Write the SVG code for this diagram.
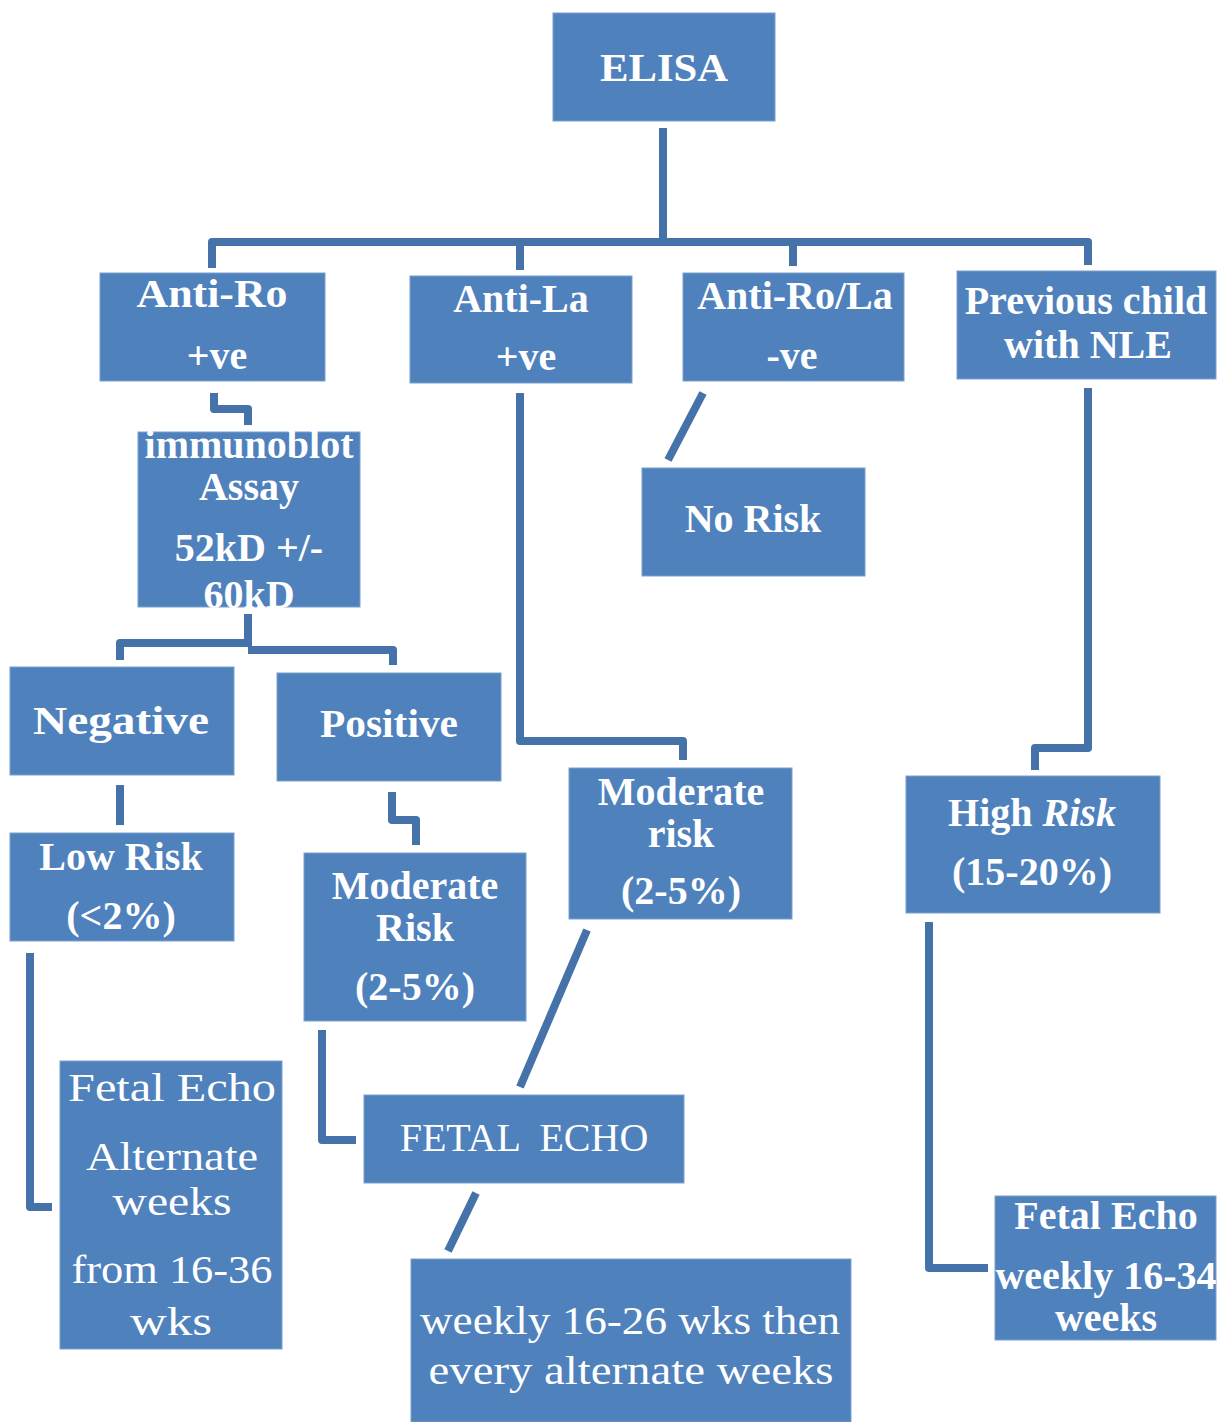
<svg xmlns="http://www.w3.org/2000/svg" width="1226" height="1422" viewBox="0 0 1226 1422">
<style>
.box{fill:#4f81bd;stroke:#7aa0d0;stroke-width:1}
.t{fill:#ffffff;font-family:"Liberation Serif","Times New Roman",serif;text-anchor:middle;font-weight:bold;font-size:40px}
.r{font-weight:normal}
.c{fill:none;stroke:#4572a8;stroke-width:8;stroke-linejoin:round}
</style>
<rect width="1226" height="1422" fill="#ffffff"/>
<g id="connectors">
<path class="c" d="M663 128 V242"/>
<path class="c" d="M212 268 V242 H1088 V265"/>
<path class="c" d="M520 242 V270"/>
<path class="c" d="M793 242 V266"/>
<path class="c" d="M214 393 V409 H248 V425"/>
<path class="c" d="M248 614 V646"/>
<path class="c" d="M120 660 V643 H248"/>
<path class="c" d="M248 650 H393 V665"/>
<path class="c" d="M520 393 V741 H683 V760"/>
<path class="c" d="M703 393 L668 460"/>
<path class="c" d="M1088 388 V748 H1035 V770"/>
<path class="c" d="M120 785 V825"/>
<path class="c" d="M392 792 V820 H416 V845"/>
<path class="c" d="M30 953 V1207 H52"/>
<path class="c" d="M322 1030 V1140 H356"/>
<path class="c" d="M587 930 L520 1087"/>
<path class="c" d="M476 1193 L448 1251"/>
<path class="c" d="M929 922 V1268 H988"/>
</g>
<g id="elisa"><rect class="box" x="553" y="13" width="222" height="108"/><text class="t" x="664" y="81" font-size="44" textLength="128" lengthAdjust="spacingAndGlyphs">ELISA</text></g>
<g id="anti-ro"><rect class="box" x="100" y="273" width="225" height="108"/><text class="t" x="212" y="307" textLength="151" lengthAdjust="spacingAndGlyphs">Anti-Ro</text><text class="t" x="217" y="369">+ve</text></g>
<g id="anti-la"><rect class="box" x="410" y="276" width="222" height="107"/><text class="t" x="521" y="312">Anti-La</text><text class="t" x="526" y="370">+ve</text></g>
<g id="anti-rola"><rect class="box" x="683" y="273" width="221" height="108"/><text class="t" x="795" y="309" font-size="38">Anti-Ro/La</text><text class="t" x="792" y="369">-ve</text></g>
<g id="previous"><rect class="box" x="957" y="271" width="259" height="108"/><text class="t" x="1086" y="314" font-size="38">Previous child</text><text class="t" x="1088" y="358" font-size="38">with NLE</text></g>
<g id="immunoblot"><rect class="box" x="138" y="432" width="222" height="175"/><text class="t" x="249" y="458" font-size="38">immunoblot</text><text class="t" x="249" y="500" font-size="38">Assay</text><text class="t" x="249" y="561" font-size="38">52kD +/-</text><text class="t" x="249" y="608" font-size="38">60kD</text></g>
<g id="no-risk"><rect class="box" x="642" y="468" width="223" height="108"/><text class="t" x="753" y="532">No Risk</text></g>
<g id="negative"><rect class="box" x="10" y="667" width="224" height="108"/><text class="t" x="121" y="734" font-size="44" textLength="176" lengthAdjust="spacingAndGlyphs">Negative</text></g>
<g id="positive"><rect class="box" x="277" y="673" width="224" height="108"/><text class="t" x="389" y="737" font-size="38" textLength="138" lengthAdjust="spacingAndGlyphs">Positive</text></g>
<g id="moderate-risk-mid"><rect class="box" x="569" y="768" width="223" height="151"/><text class="t" x="681" y="805" font-size="38">Moderate</text><text class="t" x="681" y="847" font-size="38">risk</text><text class="t" x="681" y="904" font-size="38">(2-5%)</text></g>
<g id="high-risk"><rect class="box" x="906" y="776" width="254" height="137"/><text class="t" x="1032" y="826" font-size="38">High <tspan font-style="italic">Risk</tspan></text><text class="t" x="1032" y="885" font-size="38">(15-20%)</text></g>
<g id="low-risk"><rect class="box" x="10" y="833" width="224" height="108"/><text class="t" x="121" y="870" font-size="38">Low Risk</text><text class="t" x="121" y="929" font-size="38">(&lt;2%)</text></g>
<g id="moderate-risk-left"><rect class="box" x="304" y="853" width="222" height="168"/><text class="t" x="415" y="899" font-size="38">Moderate</text><text class="t" x="415" y="941" font-size="38">Risk</text><text class="t" x="415" y="1000" font-size="38">(2-5%)</text></g>
<g id="fetal-echo-left"><rect class="box" x="60" y="1061" width="222" height="288"/><text class="t r" x="172" y="1101" font-size="46" textLength="208" lengthAdjust="spacingAndGlyphs">Fetal Echo</text><text class="t r" x="172" y="1170" font-size="44" textLength="172" lengthAdjust="spacingAndGlyphs">Alternate</text><text class="t r" x="172" y="1215" font-size="44" textLength="119" lengthAdjust="spacingAndGlyphs">weeks</text><text class="t r" x="172" y="1283" font-size="44" textLength="201" lengthAdjust="spacingAndGlyphs">from 16-36</text><text class="t r" x="171" y="1335" font-size="44" textLength="82" lengthAdjust="spacingAndGlyphs">wks</text></g>
<g id="fetal-echo-mid"><rect class="box" x="364" y="1095" width="320" height="88"/><text class="t r" x="524" y="1151" font-size="40" xml:space="preserve">FETAL  ECHO</text></g>
<g id="weekly-mid"><rect class="box" x="411" y="1259" width="440" height="163"/><text class="t r" x="630" y="1334" font-size="44" textLength="420" lengthAdjust="spacingAndGlyphs">weekly 16-26 wks then</text><text class="t r" x="631" y="1384" font-size="44" textLength="405" lengthAdjust="spacingAndGlyphs">every alternate weeks</text></g>
<g id="fetal-echo-right"><rect class="box" x="995" y="1196" width="221" height="144"/><text class="t" x="1106" y="1229" font-size="38">Fetal Echo</text><text class="t" x="1106" y="1289" font-size="38">weekly 16-34</text><text class="t" x="1106" y="1331" font-size="38">weeks</text></g>
</svg>
